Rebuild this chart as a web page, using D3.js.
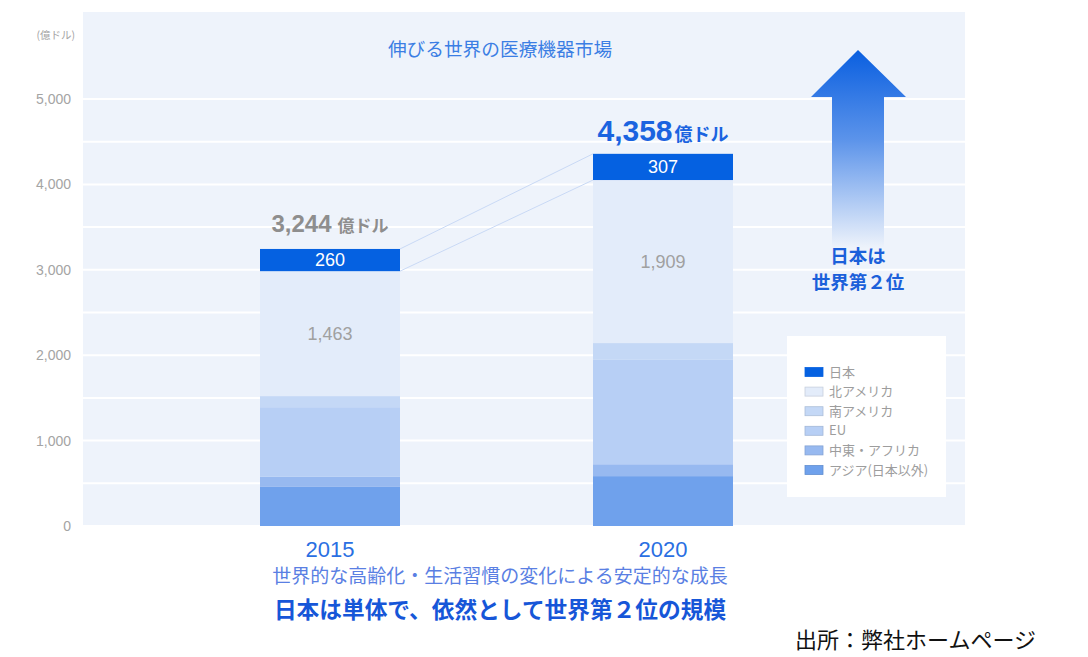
<!DOCTYPE html>
<html><head><meta charset="utf-8">
<script src="https://cdn.jsdelivr.net/npm/d3@7"></script>
<style>
html,body{margin:0;padding:0;background:#fff;}
svg{display:block;font-family:"Liberation Sans",Arial,"Noto Sans CJK JP",sans-serif;}
.jp{font-family:"Noto Sans CJK JP",sans-serif;}
</style></head><body>
<svg id="c" width="1088" height="657"></svg>
<script>
// ---- data ----
const years = ["2015", "2020"];
const regions = ["日本", "北アメリカ", "南アメリカ", "EU", "中東・アフリカ", "アジア(日本以外)"];
const japan      = [260, 307];
const northAm    = [1463, 1909];
const southAm    = [130, 192];
const eu         = [815, 1227];
const mea        = [118, 139];
const asia       = [458, 584];
const totals     = [3244, 4358];
const yTicks     = [0, 1000, 2000, 3000, 4000, 5000];
const gridTicks  = [500, 1000, 1500, 2000, 2500, 3000, 3500, 4000, 4500, 5000];
const colors = ["#0561e1", "#e3ecfa", "#c4d8f6", "#b7cff5", "#97b9f0", "#6fa1ec"];

const svg = d3.select("#c");
const fmt = d3.format(",");

// plot area
const plot = {x0: 83, x1: 965, y0: 12, y1: 525};
const y = d3.scaleLinear().domain([0, 5000]).range([526, 99]);
const xb = d3.scalePoint().domain(years).range([330, 663]);
const barW = 140;

svg.append("rect").attr("x", plot.x0).attr("y", plot.y0)
  .attr("width", plot.x1 - plot.x0).attr("height", plot.y1 - plot.y0).attr("fill", "#eef3fb");

// gridlines
svg.append("g").selectAll("line").data(gridTicks).join("line")
  .attr("x1", plot.x0).attr("x2", plot.x1)
  .attr("y1", d => y(d)).attr("y2", d => y(d))
  .attr("stroke", "#ffffff").attr("stroke-width", 2);

// y axis
const yAxis = d3.axisLeft(y).tickValues(yTicks).tickFormat(fmt).tickSize(0).tickPadding(0);
const ga = svg.append("g").attr("transform", "translate(71,0)").call(yAxis);
ga.select(".domain").remove();
ga.selectAll("text").attr("fill", "#a4a4a4").attr("font-size", 14)
  .attr("font-family", "'Liberation Sans',Arial,sans-serif");
svg.append("text").attr("class", "jp").attr("x", 75).attr("y", 39).attr("text-anchor", "end")
  .attr("font-size", 10.5).attr("fill", "#a4a4a4").text("(億ドル)");

// title
svg.append("text").attr("class", "jp").attr("x", 500).attr("y", 56).attr("text-anchor", "middle")
  .attr("font-size", 18.7).attr("fill", "#3b7ee4").text("伸びる世界の医療機器市場");

// stacked data: bottom to top = asia, mea, eu, southAm, northAm, japan
const seriesArr = [japan, northAm, southAm, eu, mea, asia];
const rows = years.map((yr, i) => {
  const o = {year: yr};
  regions.forEach((r, k) => o[r] = seriesArr[k][i]);
  return o;
});
const stackKeys = regions.slice().reverse();
const stacked = d3.stack().keys(stackKeys)(rows);

const gBars = svg.append("g");
stacked.forEach(layer => {
  const ci = regions.indexOf(layer.key);
  gBars.append("g").selectAll("rect").data(layer).join("rect")
    .attr("x", d => xb(d.data.year) - barW / 2)
    .attr("width", barW)
    .attr("y", d => y(d[1]))
    .attr("height", d => y(d[0]) - y(d[1]))
    .attr("fill", colors[ci]);
});

// connecting lines between japan segments
const jl = stacked.find(s => s.key === "日本");
[1, 0].forEach(k => {
  svg.append("line")
    .attr("x1", xb(years[0]) + barW / 2).attr("y1", y(jl[0][k]))
    .attr("x2", xb(years[1]) - barW / 2).attr("y2", y(jl[1][k]))
    .attr("stroke", "#c9d9f5").attr("stroke-width", 1);
});

// segment labels
const nl = stacked.find(s => s.key === "北アメリカ");
years.forEach((yr, i) => {
  svg.append("text").attr("x", xb(yr)).attr("y", (y(jl[i][0]) + y(jl[i][1])) / 2 + 6)
    .attr("text-anchor", "middle").attr("font-size", 18).attr("fill", "#ffffff").text(fmt(japan[i]));
  svg.append("text").attr("x", xb(yr)).attr("y", (y(nl[i][0]) + y(nl[i][1])) / 2 + 6)
    .attr("text-anchor", "middle").attr("font-size", 18).attr("fill", "#a0a0a0").text(fmt(northAm[i]));
});

// total labels
const t0 = svg.append("text").attr("x", xb(years[0])).attr("y", y(totals[0]) - 17)
  .attr("text-anchor", "middle").attr("font-weight", "bold").attr("fill", "#8e8e8e");
t0.append("tspan").attr("font-size", 24).text(fmt(totals[0]));
t0.append("tspan").attr("class", "jp").attr("font-size", 17).attr("dx", 6).text("億ドル");
const t1 = svg.append("text").attr("x", xb(years[1])).attr("y", y(totals[1]) - 13)
  .attr("text-anchor", "middle").attr("font-weight", "bold").attr("fill", "#1a63e0");
t1.append("tspan").attr("font-size", 30).text(fmt(totals[1]));
t1.append("tspan").attr("class", "jp").attr("font-size", 18).attr("dx", 2).text("億ドル");

// x labels
svg.append("g").selectAll("text").data(years).join("text")
  .attr("x", d => xb(d)).attr("y", 557).attr("text-anchor", "middle")
  .attr("font-size", 22).attr("fill", "#2a6fe2").text(d => d);

// arrow
const defs = svg.append("defs");
const grad = defs.append("linearGradient").attr("id", "ag").attr("x1", 0).attr("y1", 0).attr("x2", 0).attr("y2", 1);
grad.append("stop").attr("offset", "0%").attr("stop-color", "#0a5fe0");
grad.append("stop").attr("offset", "45%").attr("stop-color", "#5b93ea");
grad.append("stop").attr("offset", "100%").attr("stop-color", "#eef3fb");
svg.append("path")
  .attr("d", "M858,50 L906,97 L884,97 L884,248 L832,248 L832,97 L811,97 Z")
  .attr("fill", "url(#ag)");
svg.append("text").attr("class", "jp").attr("x", 858).attr("y", 263).attr("text-anchor", "middle")
  .attr("font-size", 18.5).attr("font-weight", "bold").attr("fill", "#1b60da").text("日本は");
svg.append("text").attr("class", "jp").attr("x", 858).attr("y", 289).attr("text-anchor", "middle")
  .attr("font-size", 18.5).attr("font-weight", "bold").attr("fill", "#1b60da").text("世界第２位");

// legend
svg.append("rect").attr("x", 787).attr("y", 336).attr("width", 159).attr("height", 161).attr("fill", "#ffffff");
const lg = svg.append("g").selectAll("g").data(regions).join("g")
  .attr("transform", (d, i) => `translate(805,${372 + i * 19.6})`);
lg.append("rect").attr("x", 0).attr("y", -4.5).attr("width", 18).attr("height", 9)
  .attr("fill", (d, i) => colors[i]).attr("stroke", (d, i) => i === 0 ? colors[0] : d3.color(colors[i]).darker(0.35))
  .attr("stroke-width", 0.8);
lg.append("text").attr("class", "jp").attr("x", 24).attr("y", 4.5)
  .attr("font-size", 13).attr("fill", "#9d9d9d").text(d => d);

// bottom texts
svg.append("text").attr("class", "jp").attr("x", 500).attr("y", 583).attr("text-anchor", "middle")
  .attr("font-size", 19).attr("fill", "#5a7fe3").text("世界的な高齢化・生活習慣の変化による安定的な成長");
svg.append("text").attr("class", "jp").attr("x", 500).attr("y", 618).attr("text-anchor", "middle")
  .attr("font-size", 22.7).attr("font-weight", "bold").attr("fill", "#1656d8").text("日本は単体で、依然として世界第２位の規模");
svg.append("text").attr("class", "jp").attr("x", 1036).attr("y", 648).attr("text-anchor", "end")
  .attr("font-size", 22).attr("fill", "#111111").text("出所：弊社ホームページ");
</script>
</body></html>
